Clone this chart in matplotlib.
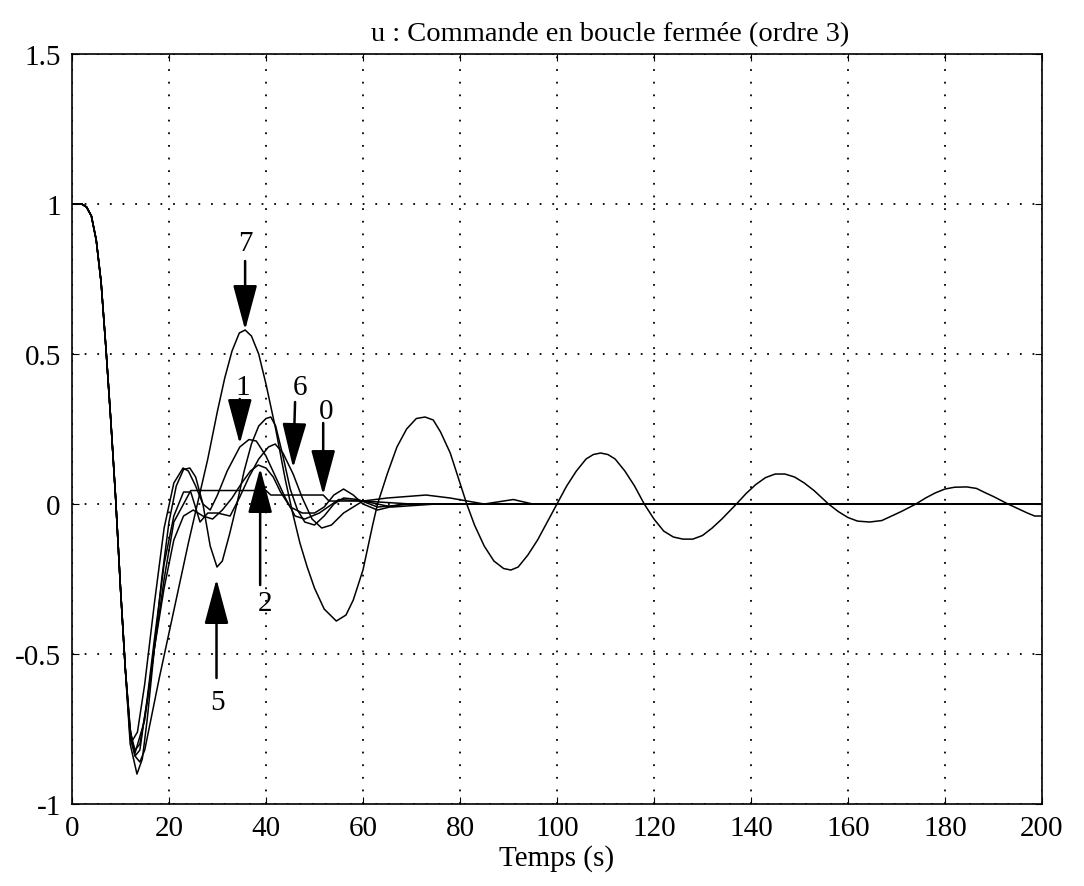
import matplotlib
matplotlib.use("Agg")
import matplotlib.pyplot as plt

plt.rcParams["font.family"] = ["Liberation Serif", "DejaVu Serif"]
plt.rcParams["axes.unicode_minus"] = False

# common start of every curve
t_start = [0, 1, 2, 3, 4, 5, 6, 7, 8, 9, 10, 11]
u_start = [1.0, 1.0, 1.0, 0.99, 0.96, 0.88, 0.74, 0.52, 0.28, 0.02, -0.28, -0.55]

# curve 7 : large slowly damped oscillation
t7 = [12, 13, 14, 15, 16, 18, 20, 22, 24, 26, 28, 30, 31.5, 33, 34.5, 35.7,
      37, 38.5, 40, 42, 44, 45.5, 47, 48.5, 50, 52, 54.5, 56.5, 58, 60, 62, 63,
      65, 67, 69, 71, 72.8, 74.5, 76, 78, 80, 81.4, 83, 85, 87, 89, 90.5, 92,
      94, 96, 98, 100, 102, 104, 106, 107.5, 109, 110.5, 112, 114, 116, 118,
      120, 122, 124, 126, 128, 130, 132, 134, 137, 139, 141, 143, 145, 147,
      149, 151, 153, 156, 158, 160, 162, 164.5, 167, 169, 171, 174, 176, 178,
      180, 182, 184.5, 186.5, 188, 190, 193, 195, 197, 198.5, 200]
u7 = [-0.75, -0.84, -0.86, -0.82, -0.74, -0.58, -0.43, -0.28, -0.13, 0.01,
      0.15, 0.31, 0.42, 0.51, 0.57, 0.58, 0.56, 0.5, 0.4, 0.25, 0.08, -0.03,
      -0.13, -0.21, -0.28, -0.35, -0.39, -0.37, -0.32, -0.22, -0.07, 0.0, 0.1,
      0.19, 0.25, 0.285, 0.29, 0.28, 0.24, 0.17, 0.07, 0.0, -0.07, -0.14,
      -0.19, -0.215, -0.22, -0.21, -0.17, -0.12, -0.06, 0.0, 0.06, 0.11, 0.15,
      0.165, 0.17, 0.165, 0.15, 0.11, 0.06, 0.0, -0.05, -0.09, -0.11, -0.117,
      -0.117, -0.105, -0.08, -0.05, 0.0, 0.035, 0.065, 0.088, 0.1, 0.1, 0.09,
      0.07, 0.045, 0.0, -0.025, -0.045, -0.057, -0.06, -0.055, -0.04, -0.025,
      0.0, 0.02, 0.037, 0.05, 0.056, 0.057, 0.052, 0.04, 0.025, 0.0, -0.015,
      -0.03, -0.04, -0.04]

# curve 5
t5 = [12, 13.4, 14.5, 15.5, 17, 18.5, 20, 21.5, 23, 24.3, 25.5, 27, 28.5,
      29.9, 31, 32.5, 34, 35.5, 37, 38.5, 40, 41, 42, 43.5, 45, 46.5, 48, 50,
      52, 54, 56, 59, 63, 70, 200]
u5 = [-0.8, -0.9, -0.85, -0.72, -0.48, -0.25, -0.06, 0.06, 0.115, 0.12, 0.09,
      0.0, -0.14, -0.21, -0.19, -0.1, 0.0, 0.11, 0.2, 0.26, 0.285, 0.29, 0.26,
      0.16, 0.05, -0.02, -0.06, -0.07, -0.04, 0.0, 0.02, 0.015, -0.01, 0.0, 0.0]

# curve 1
t1 = [12, 12.4, 13.5, 15, 17, 19, 21, 22.9, 24, 25.5, 27, 28.5, 30, 32, 34.6,
      36.5, 38, 40, 42, 44, 46, 48, 51, 55, 60, 66, 75, 200]
u1 = [-0.75, -0.79, -0.76, -0.6, -0.33, -0.08, 0.07, 0.12, 0.11, 0.06, 0.0,
      -0.02, 0.03, 0.11, 0.19, 0.215, 0.21, 0.16, 0.09, 0.02, -0.04, -0.05,
      -0.03, 0.015, 0.01, -0.01, 0.0, 0.0]

# curve 6
t6 = [12, 13, 14, 15.5, 17, 19, 21, 23, 24.5, 26.4, 28, 30, 32.6, 34.5, 36.5,
      38.5, 40.5, 41.9, 43.5, 45.6, 47.5, 49.5, 51.5, 53.5, 56, 60, 65, 73, 78,
      85, 91, 95, 200]
u6 = [-0.78, -0.84, -0.82, -0.65, -0.45, -0.2, -0.04, 0.04, 0.04, -0.06,
      -0.03, -0.03, -0.04, 0.02, 0.09, 0.15, 0.19, 0.2, 0.17, 0.1, 0.02, -0.05,
      -0.08, -0.07, -0.03, 0.01, 0.02, 0.03, 0.02, 0.0, 0.015, 0.0, 0.0]

# curve 2
t2 = [12, 13, 14, 15.5, 17, 19, 21, 23, 25, 27, 29, 31, 33, 35, 36.8, 38.4,
      40, 41.5, 43, 45, 47.5, 50, 52, 54, 56, 58, 60, 63, 68, 200]
u2 = [-0.76, -0.82, -0.8, -0.66, -0.48, -0.28, -0.12, -0.04, -0.02, -0.04,
      -0.05, -0.02, 0.02, 0.07, 0.11, 0.13, 0.12, 0.09, 0.04, -0.01, -0.03,
      -0.03, -0.01, 0.03, 0.05, 0.03, 0.0, -0.02, 0.0, 0.0]

# curve 0 : almost flat after the first dip
t0 = [12, 13, 15, 17, 19, 21, 24.5, 40, 41, 51.8, 53, 60, 70, 200]
u0 = [-0.77, -0.83, -0.72, -0.48, -0.25, -0.06, 0.045, 0.045, 0.03, 0.03,
      0.01, 0.01, 0.0, 0.0]

curves = [(t7, u7), (t5, u5), (t1, u1), (t6, u6), (t2, u2), (t0, u0)]

fig = plt.figure(figsize=(10.84, 8.87), dpi=100)
ax = fig.add_axes([0.0664, 0.0924, 0.8948, 0.8456])

for t, u in curves:
    ax.plot(t_start + t, u_start + u, color="black", lw=1.1)

ax.set_xlim(0, 200)
ax.set_ylim(-1, 1.5)
ax.set_xticks(range(0, 201, 20))
ax.set_yticks([-1, -0.5, 0, 0.5, 1, 1.5])
ax.set_yticklabels(["-1", "-0.5", "0", "0.5", "1", "1.5"])
ax.tick_params(direction="in", length=5, labelsize=21, top=True, right=True,
               pad=8)
ax.grid(True, color="black", linestyle=(0, (1, 6)), linewidth=1.3)
for s in ax.spines.values():
    s.set_linewidth(1.2)

ax.set_title("u : Commande en boucle fermée (ordre 3)", fontsize=20.5,
             x=0.555, pad=10)
ax.set_xlabel("Temps (s)", fontsize=21, labelpad=2)

# labelled arrows
aprops = dict(arrowstyle="-|>,head_length=2.8,head_width=0.75",
              color="black", lw=1.8, shrinkA=0, shrinkB=0)
labels = ["7", "1", "6", "0", "2", "5"]
tips = [(35.7, 0.58), (34.6, 0.2), (45.6, 0.12), (51.8, 0.03), (38.8, 0.12),
        (29.8, -0.25)]
tails = [(35.7, 0.81), (34.6, 0.35), (46.0, 0.34), (51.8, 0.27), (38.8, -0.27),
         (29.8, -0.58)]
text_pos = [(35.7, 0.87), (35.3, 0.39), (47.0, 0.39), (52.4, 0.31),
            (39.8, -0.33), (30.0, -0.66)]
for lab, tip, tail, tp in zip(labels, tips, tails, text_pos):
    ax.annotate("", xy=tip, xytext=tail, arrowprops=aprops)
    ax.text(tp[0], tp[1], lab, fontsize=21, ha="center", va="center")

fig.savefig("out.png", dpi=100)
